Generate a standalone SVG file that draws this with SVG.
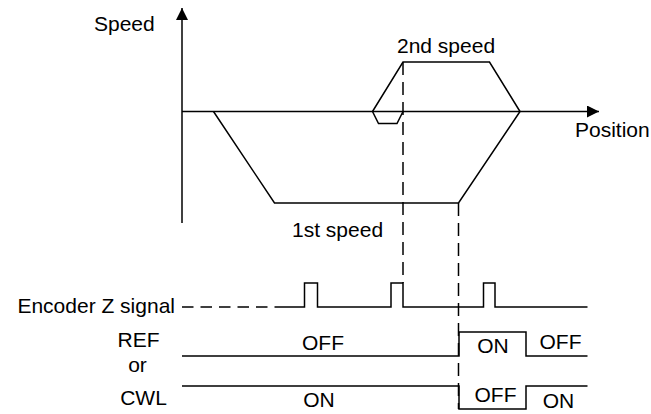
<svg xmlns="http://www.w3.org/2000/svg" width="651" height="414" viewBox="0 0 651 414">
<defs>
<style>
text{font-family:"Liberation Sans",Arial,sans-serif;font-size:21px;fill:#000}
.ln{fill:none;stroke:#000;stroke-width:1.5}
.ds{fill:none;stroke:#000;stroke-width:1.5;stroke-dasharray:13,7}
.dh{fill:none;stroke:#000;stroke-width:1.5;stroke-dasharray:11.5,7}
</style>
<marker id="ah" markerWidth="12" markerHeight="12" refX="12" refY="6" orient="auto" markerUnits="userSpaceOnUse">
<path d="M0,0 L12,6 L0,12 Z" fill="#000"/>
</marker>
</defs>
<rect width="651" height="414" fill="#fff"/>
<g id="axes">
<line class="ln" x1="182" y1="223" x2="182" y2="8" marker-end="url(#ah)"/>
<line class="ln" x1="182" y1="111.5" x2="599" y2="111.5" marker-end="url(#ah)"/>
<text x="94" y="31">Speed</text>
<text x="575" y="137">Position</text>
</g>
<g id="speed-profile">
<polyline class="ln" points="213.5,111.5 274.5,203 458.5,203 520,111.5"/>
<polyline class="ln" points="372.5,111.5 403,62 489.5,62 520,111.5"/>
<polyline class="ln" points="372.5,111.5 378.5,123.5 397,123.5 403,111.5"/>
<text x="397" y="53">2nd speed</text>
<text x="292" y="237">1st speed</text>
</g>
<g id="connectors">
<line class="ds" x1="403" y1="62" x2="403" y2="283"/>
<line class="ds" x1="458.5" y1="203" x2="458.5" y2="409"/>
</g>
<g id="encoder">
<text x="175" y="313" text-anchor="end">Encoder Z signal</text>
<line class="dh" x1="182" y1="307" x2="280" y2="307"/>
<polyline class="ln" points="280,307 304.5,307 304.5,283 317.5,283 317.5,307 391,307 391,283 403,283 403,307 483.5,307 483.5,283 495,283 495,307 587.5,307"/>
</g>
<g id="ref-cwl">
<text x="138.5" y="347" text-anchor="middle">REF</text>
<text x="137.5" y="372" text-anchor="middle">or</text>
<text x="143.5" y="405" text-anchor="middle">CWL</text>
<polyline class="ln" points="182,356 459,356 459,332 526,332 526,356 587.5,356"/>
<polyline class="ln" points="182,386 459,386 459,409 526,409 526,386 587.5,386"/>
<text x="323" y="350" text-anchor="middle">OFF</text>
<text x="493" y="353" text-anchor="middle">ON</text>
<text x="560.5" y="349" text-anchor="middle">OFF</text>
<text x="319" y="407" text-anchor="middle">ON</text>
<text x="495.5" y="402" text-anchor="middle">OFF</text>
<text x="558.5" y="408" text-anchor="middle">ON</text>
</g>
</svg>
